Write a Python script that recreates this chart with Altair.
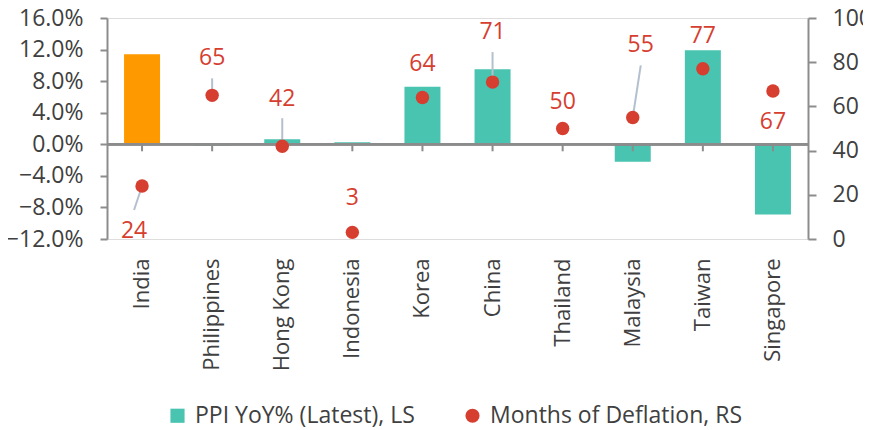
import altair as alt
import pandas as pd

# ---- data ----
countries = ["India", "Philippines", "Hong Kong", "Indonesia", "Korea",
             "China", "Thailand", "Malaysia", "Taiwan", "Singapore"]
ppi_yoy_pct = [11.4, -0.2, 0.65, 0.27, 7.3, 9.5, 0.1, -2.2, 11.9, -8.9]
months_deflation = [24, 65, 42, 3, 64, 71, 50, 55, 77, 67]
highlight = ["India"]
series_names = ["PPI YoY% (Latest), LS", "Months of Deflation, RS"]
left_ticks = [-0.12, -0.08, -0.04, 0.0, 0.04, 0.08, 0.12, 0.16]
right_ticks = [0, 20, 40, 60, 80, 100]

# ---- styling: label offsets (px) and leader lines (px from dot) ----
label_dx = [-8, 0, 0, 0, 0, 0, 0, 8, 0, 0]
label_dy = [45, -37, -47, -34, -34, -50, -27, -72, -33, 31]
leader_end = [(-8, 24), (0, -17), (0, -28), None, None, (0, -30), None, (8, -52), None, None]

TEAL = "#48C4B1"
ORANGE = "#FF9900"
RED = "#D63E30"
GRAY = "#8C8C8C"
TXT = "#404040"
FONT = "Open Sans"

df = pd.DataFrame({
    "country": countries,
    "ppi": [v / 100 for v in ppi_yoy_pct],
    "months": months_deflation,
    "series": series_names[1],
})

x = alt.X("country:N", sort=countries,
          scale=alt.Scale(paddingInner=0, paddingOuter=0),
          axis=alt.Axis(title=None, labelAngle=-90, domain=False, ticks=False,
                        labelPadding=19, labelFontSize=22, labelColor=TXT,
                        labelFont=FONT, labelOverlap=False, labelLimit=0))

left_scale = alt.Scale(domain=[-0.12, 0.16], nice=False, zero=False)
left_axis = alt.Axis(orient="left", title=None, format=".1%", values=left_ticks,
                     grid=False, domainColor=GRAY, domainWidth=2,
                     tickColor=GRAY, tickWidth=2, tickSize=7,
                     labelPadding=17, labelFontSize=23, labelColor=TXT,
                     labelFont=FONT, labelOverlap=False, labelFlush=False)

y_left = alt.Y("ppi:Q", scale=left_scale, axis=left_axis)
y_zero = alt.Y(datum=0, type="quantitative", scale=left_scale, axis=left_axis)

y_right = alt.Y("months:Q",
                scale=alt.Scale(domain=[0, 100], nice=False),
                axis=alt.Axis(orient="right", title=None, values=right_ticks,
                              grid=False, domainColor=GRAY, domainWidth=2,
                              tickColor=GRAY, tickWidth=2, tickSize=8,
                              labelPadding=16, labelFontSize=23, labelColor=TXT,
                              labelFont=FONT, labelOverlap=False, labelFlush=False))

base = alt.Chart(df)

bars = base.mark_bar(size=36).encode(
    x=x,
    y=y_left,
    color=alt.condition(alt.FieldOneOfPredicate(field="country", oneOf=highlight),
                        alt.value(ORANGE), alt.value(TEAL)),
)

zero_line = base.mark_rule(color=GRAY, strokeWidth=2).encode(y=y_zero)

cat_ticks = base.mark_rule(color=GRAY, strokeWidth=2, y2Offset=7).encode(
    x=x,
    y=y_zero,
    y2=alt.datum(0),
)

left_layer = alt.layer(bars, zero_line, cat_ticks)

legend = alt.Legend(title=None, orient="none", legendX=59, legendY=386,
                    direction="horizontal", labelFontSize=23, labelFont=FONT,
                    labelColor=TXT, symbolSize=200, symbolStrokeWidth=0,
                    labelOffset=6, columnPadding=46, padding=0, labelLimit=0)

leaders = []
for c, end in zip(countries, leader_end):
    if end is None:
        continue
    dx, dy = end
    leaders.append(
        base.transform_filter(alt.datum.country == c)
        .mark_rule(color="#B4C0CE", strokeWidth=2, x2Offset=dx, y2Offset=dy)
        .encode(x=x, x2=alt.X2("country:N"), y=y_right, y2=alt.Y2("months:Q"))
    )

points = base.mark_point(filled=True, size=180, opacity=1).encode(
    x=x,
    y=y_right,
    color=alt.Color("series:N", scale=alt.Scale(domain=series_names, range=[TEAL, RED]),
                    legend=legend),
    shape=alt.Shape("series:N", scale=alt.Scale(domain=series_names, range=["square", "circle"]),
                    legend=legend),
)

labels = []
for c, dx, dy in zip(countries, label_dx, label_dy):
    labels.append(
        base.transform_filter(alt.datum.country == c)
        .mark_text(dx=dx, dy=dy, color=RED, fontSize=23, font=FONT,
                   align="center", baseline="middle")
        .encode(x=x, y=y_right, text="months:Q")
    )

right_layer = alt.layer(*leaders, points, *labels)

chart = alt.layer(left_layer, right_layer).resolve_scale(y="independent").properties(
    width=701, height=221,
    padding={"left": 99, "top": 10, "right": 55, "bottom": 192},
    autosize=alt.AutoSizeParams(type="none"),
).configure_view(stroke=None).configure_axis(labelOverlap=False).configure(background="white")

chart.save("out.html", embed_options={"renderer": "svg", "actions": False})
